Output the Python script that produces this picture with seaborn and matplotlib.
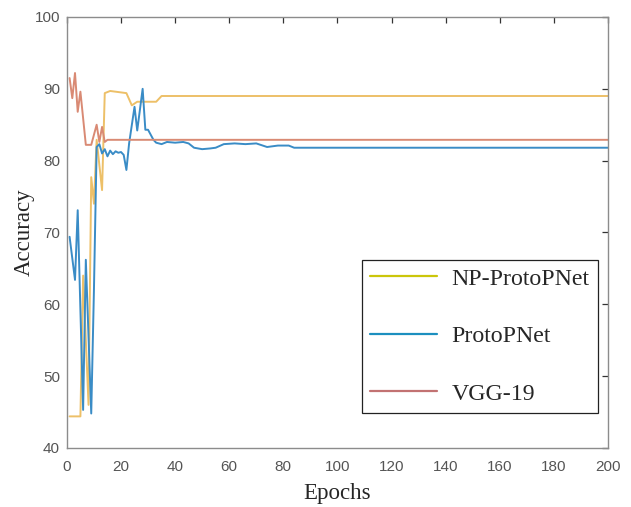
import matplotlib
matplotlib.use("Agg")
import matplotlib.pyplot as plt
from matplotlib.lines import Line2D
import seaborn as sns
import pandas as pd

# Validation accuracy per training epoch
np_epochs = [1, 5, 6, 7, 8, 9, 10, 11, 13, 14, 16, 20, 22, 24, 26, 33, 35, 200]
np_acc = [44.4, 44.4, 64.0, 55.0, 46.0, 77.7, 74.0, 82.9, 75.9, 89.4, 89.7, 89.5,
          89.4, 87.7, 88.2, 88.2, 89.0, 89.0]

proto_epochs = [1, 3, 4, 6, 7, 9, 10, 11, 12, 13, 14, 15, 16, 17, 18, 19, 20, 21,
                22, 23, 25, 26, 28, 29, 30, 32, 33, 35, 37, 40, 43, 45, 47, 50,
                53, 55, 58, 62, 66, 70, 74, 78, 82, 84, 200]
proto_acc = [69.4, 63.4, 73.1, 45.3, 66.2, 44.8, 62.0, 81.9, 82.3, 81.0, 81.6,
             80.6, 81.4, 80.9, 81.3, 81.1, 81.2, 80.8, 78.7, 82.4, 87.5, 84.2,
             90.0, 84.3, 84.3, 82.9, 82.5, 82.3, 82.6, 82.5, 82.6, 82.4, 81.8,
             81.6, 81.7, 81.8, 82.3, 82.4, 82.3, 82.4, 81.9, 82.1, 82.1, 81.8,
             81.8]

vgg_epochs = [1, 2, 3, 4, 5, 7, 9, 11, 12, 13, 14, 15, 200]
vgg_acc = [91.5, 88.7, 92.2, 86.8, 89.6, 82.2, 82.2, 85.0, 82.6, 84.7, 82.6,
           82.9, 82.9]

models = ["NP-ProtoPNet", "ProtoPNet", "VGG-19"]
line_colors = ["#EDC068", "#3A8CC6", "#D98A74"]
legend_colors = ["#CBC60A", "#1C8FBF", "#C27272"]

df = pd.concat([
    pd.DataFrame({"Epoch": np_epochs, "Accuracy": np_acc, "Model": models[0]}),
    pd.DataFrame({"Epoch": proto_epochs, "Accuracy": proto_acc, "Model": models[1]}),
    pd.DataFrame({"Epoch": vgg_epochs, "Accuracy": vgg_acc, "Model": models[2]}),
], ignore_index=True)

sns.set_style("white")
plt.rcParams["font.family"] = ["Liberation Sans", "DejaVu Sans"]

fig = plt.figure(figsize=(6.31, 5.07), dpi=100)
ax = fig.add_axes([0.106, 0.1164, 0.8575, 0.8501])

sns.lineplot(data=df, x="Epoch", y="Accuracy", hue="Model", hue_order=models,
             palette=dict(zip(models, line_colors)), estimator=None, sort=False,
             linewidth=1.4, legend=False, ax=ax)

ax.set_xlim(0, 200)
ax.set_ylim(40, 100)
ax.set_xticks(range(0, 201, 20))
ax.set_yticks(range(40, 101, 10))
ax.tick_params(direction="in", length=4, width=0.9, top=True, right=True,
               labelsize=11, labelcolor="#555555", color="#333333")
ax.tick_params(axis="x", pad=9)
ax.tick_params(axis="y", pad=5)
for s in ax.spines.values():
    s.set_color("#8c8c8c")
    s.set_linewidth(1.0)

serif = ["Liberation Serif", "DejaVu Serif"]
ax.set_xlabel("Epochs", fontsize=16.5, family=serif, labelpad=6)
ax.set_ylabel("Accuracy", fontsize=16.5, family=serif, labelpad=0)

handles = [Line2D([], [], color=c, lw=1.6) for c in legend_colors]
leg = ax.legend(handles, models, loc="lower right", bbox_to_anchor=(0.9815, 0.081),
                prop={"family": serif, "size": 17.2}, frameon=True, fancybox=False,
                edgecolor="#222222", framealpha=1, handlelength=2.8,
                handletextpad=0.6, labelspacing=1.5, borderpad=0.35,
                borderaxespad=0)
leg.get_frame().set_linewidth(0.9)

fig.savefig("out.png", dpi=100)
